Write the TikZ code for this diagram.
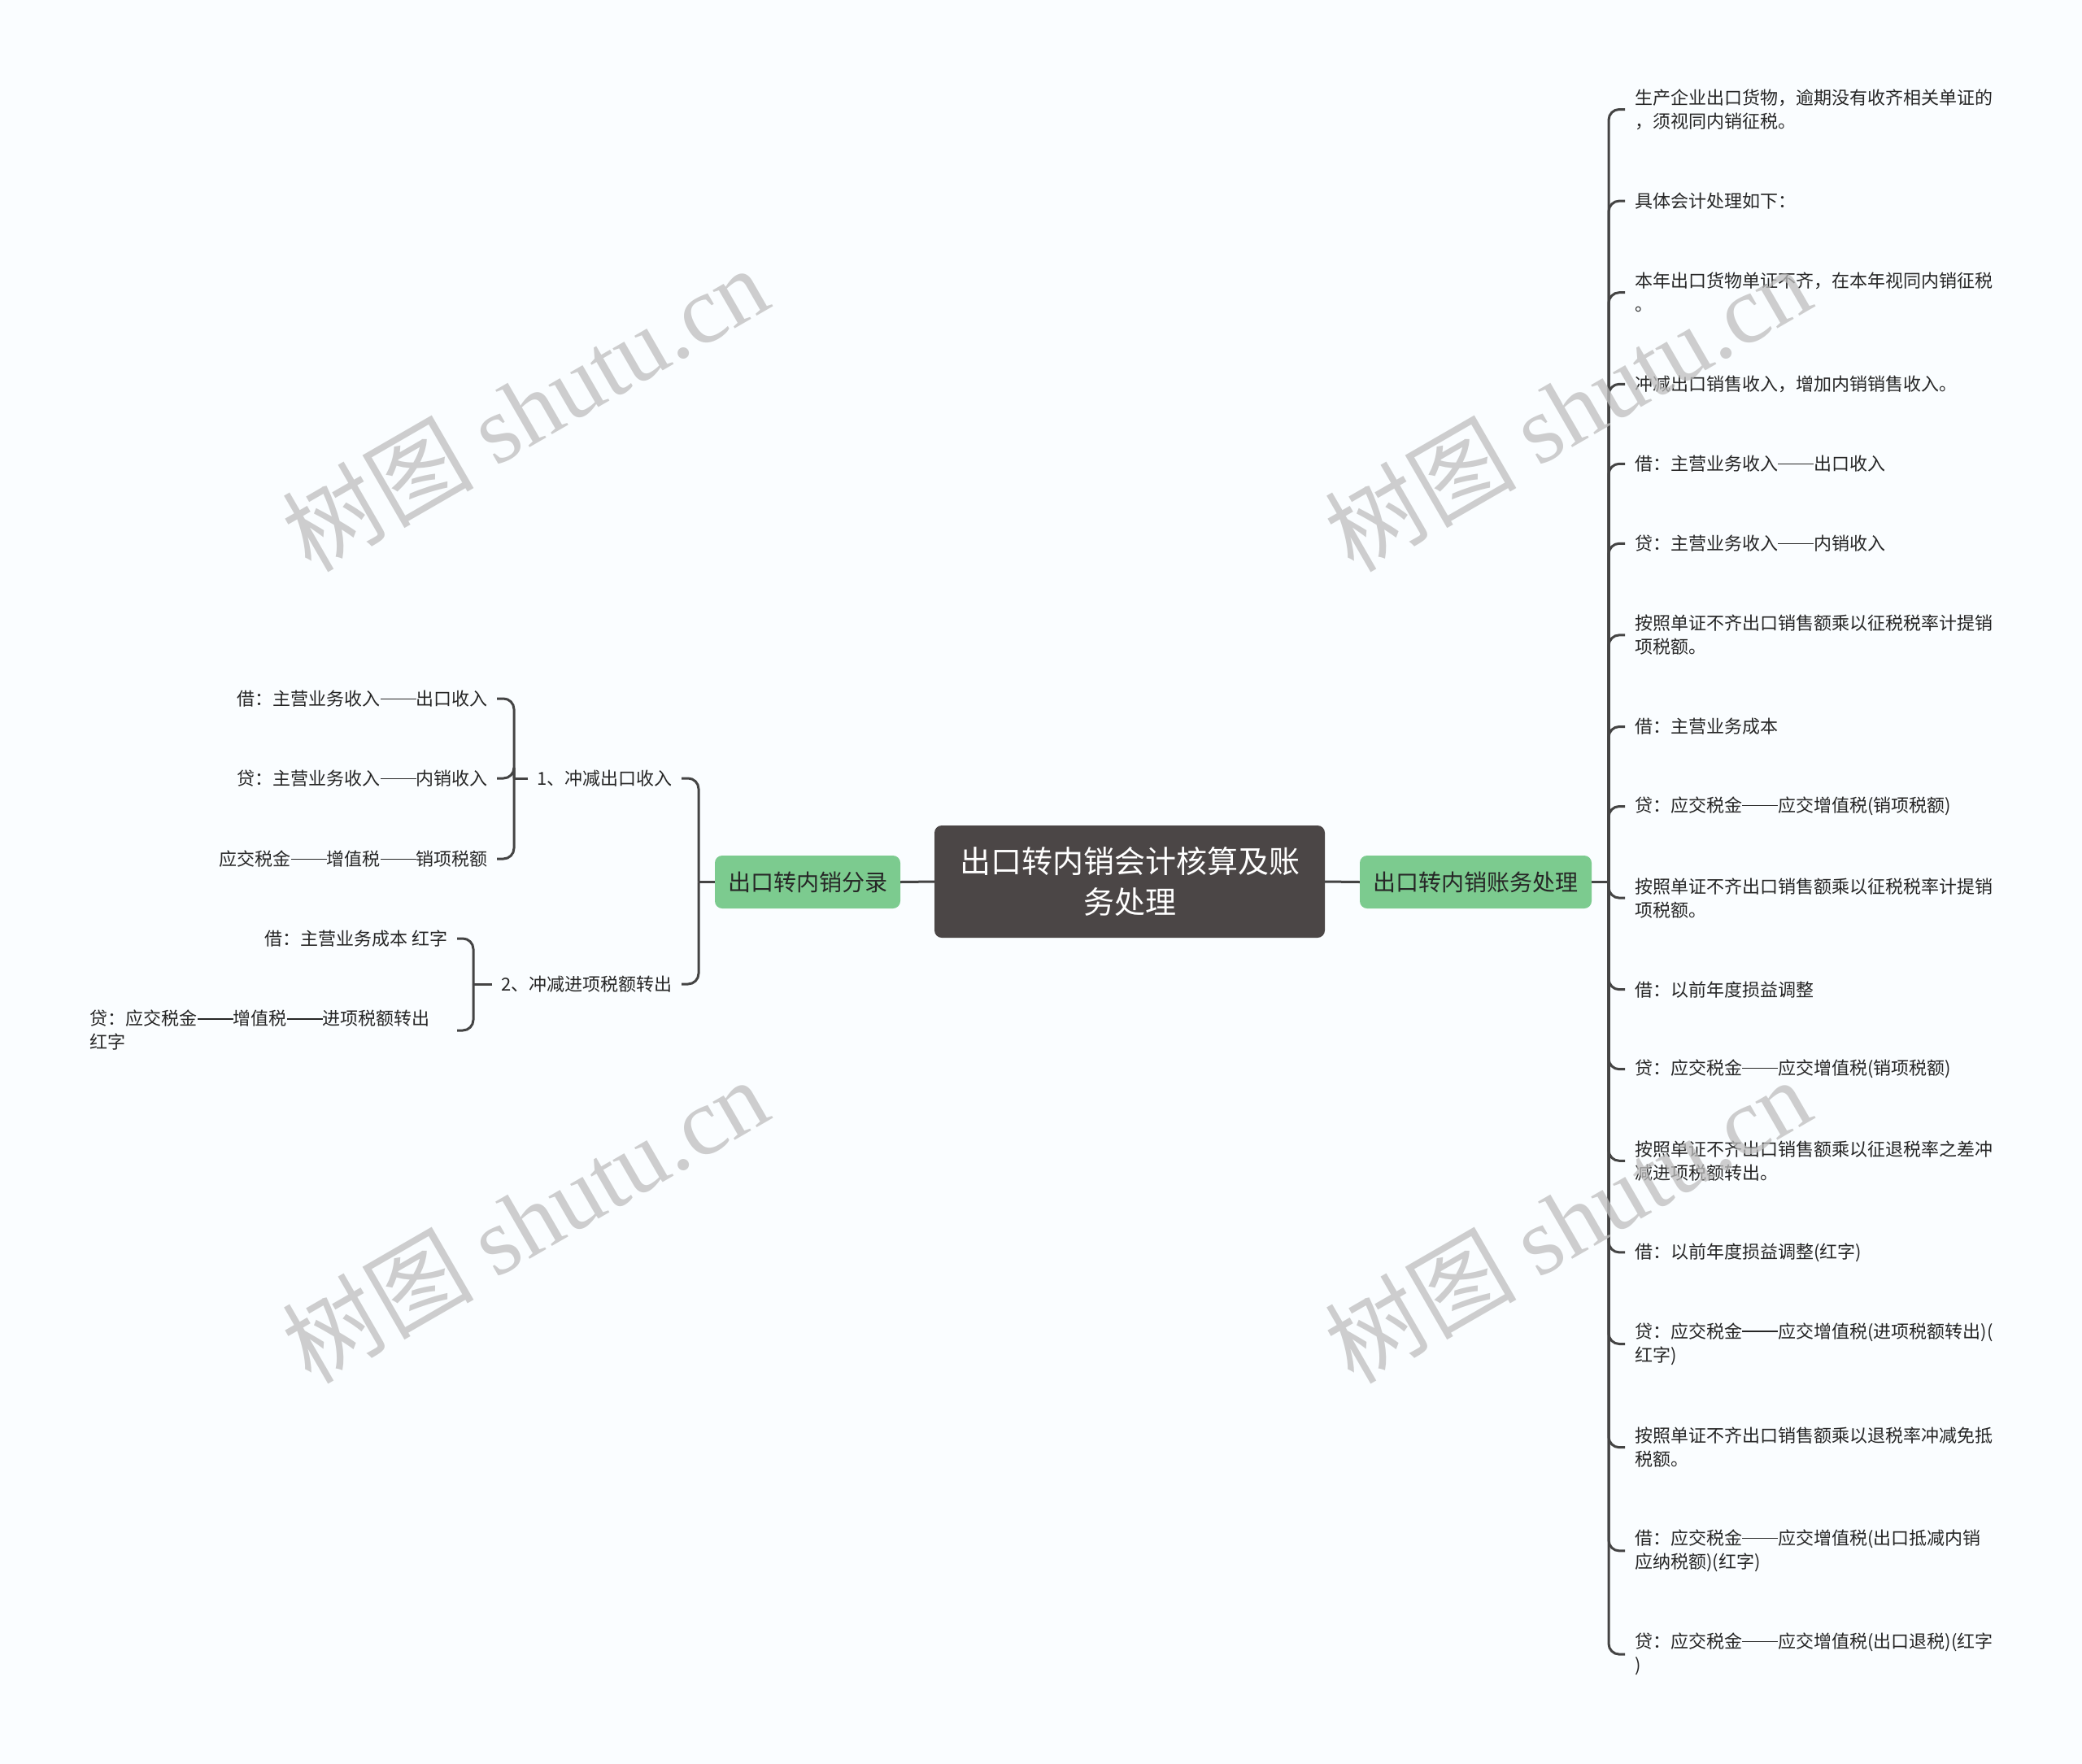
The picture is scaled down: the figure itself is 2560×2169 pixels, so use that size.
\documentclass[tikz,border=0pt]{standalone}
\usepackage{fontspec}
\setmainfont{Noto Sans CJK SC}
\newfontfamily\wmlat{Liberation Serif}
\newcommand\ddash{\rule[0.34em]{2em}{0.06em}}
\definecolor{bgc}{RGB}{250,253,255}
\definecolor{linec}{RGB}{68,68,68}
\definecolor{rootc}{RGB}{75,70,70}
\definecolor{greenc}{RGB}{124,203,143}
\definecolor{txtc}{RGB}{38,38,38}
\definecolor{wmc}{RGB}{190,190,190}
\begin{document}
\begin{tikzpicture}[x=1pt,y=-1pt,
 conn/.style={draw=linec, line width=3pt},
 branch/.style={conn, rounded corners=13pt},
 leafR/.style={anchor=west, inner xsep=12pt, inner ysep=0pt, align=left, text=txtc, font=\fontsize{22pt}{29pt}\selectfont},
 leafL/.style={anchor=east, inner xsep=11pt, inner ysep=0pt, align=left, text=txtc, font=\fontsize{22pt}{29pt}\selectfont},
 greenbox/.style={fill=greenc, rounded corners=9pt, minimum height=65pt, inner sep=0pt, text=txtc, font=\fontsize{28pt}{34pt}\selectfont},
 rootbox/.style={fill=rootc, rounded corners=9pt, minimum width=480pt, minimum height=138pt, inner sep=0pt, align=center, text=white, font=\fontsize{38pt}{50pt}\selectfont},
 wm/.style={text=wmc, opacity=0.75, rotate=30, inner sep=0pt, font=\fontsize{118pt}{118pt}\selectfont}
]
\fill[bgc] (0,0) rectangle (2560,2169);
\useasboundingbox (0,0) rectangle (2560,2169);

% central and main branches
\node[rootbox] (root) at (1389,1084) {出口转内销会计核算及账\\务处理};
\node[greenbox, minimum width=285pt] (rg) at (1814.5,1084.5) {出口转内销账务处理};
\node[greenbox, minimum width=228pt] (lg) at (993,1084.5) {出口转内销分录};
\draw[conn] (root.east) -- (rg.west);
\draw[conn] (lg.east) -- (root.west);

% right leaves
\node[leafR] (r1) at (1998,134.5) {生产企业出口货物，逾期没有收齐相关单证的\\，须视同内销征税。};
\node[leafR] (r2) at (1998,247.1) {具体会计处理如下：};
\node[leafR] (r3) at (1998,359.7) {本年出口货物单证不齐，在本年视同内销征税\\。};
\node[leafR] (r4) at (1998,472.3) {冲减出口销售收入，增加内销销售收入。};
\node[leafR] (r5) at (1998,570.3) {借：主营业务收入\ddash 出口收入};
\node[leafR] (r6) at (1998,668.3) {贷：主营业务收入\ddash 内销收入};
\node[leafR] (r7) at (1998,780.9) {按照单证不齐出口销售额乘以征税税率计提销\\项税额。};
\node[leafR] (r8) at (1998,893.5) {借：主营业务成本};
\node[leafR] (r9) at (1998,991.5) {贷：应交税金\ddash 应交增值税(销项税额)};
\node[leafR] (r10) at (1998,1104.1) {按照单证不齐出口销售额乘以征税税率计提销\\项税额。};
\node[leafR] (r11) at (1998,1216.7) {借：以前年度损益调整};
\node[leafR] (r12) at (1998,1314.7) {贷：应交税金\ddash 应交增值税(销项税额)};
\node[leafR] (r13) at (1998,1427.3) {按照单证不齐出口销售额乘以征退税率之差冲\\减进项税额转出。};
\node[leafR] (r14) at (1998,1539.9) {借：以前年度损益调整(红字)};
\node[leafR] (r15) at (1998,1652.5) {贷：应交税金\ddash 应交增值税(进项税额转出)(\\红字)};
\node[leafR] (r16) at (1998,1779.7) {按照单证不齐出口销售额乘以退税率冲减免抵\\税额。};
\node[leafR] (r17) at (1998,1906.9) {借：应交税金\ddash 应交增值税(出口抵减内销\\应纳税额)(红字)};
\node[leafR] (r18) at (1998,2034.1) {贷：应交税金\ddash 应交增值税(出口退税)(红字\\)};

\draw[conn] (rg.east) -- (1978,1084.5) coordinate (rs);
\foreach \i in {1,...,18} \draw[branch] (rs) |- (r\i.west);

% left subtree
\node[leafL] (n1) at (838,957) {1、冲减出口收入};
\node[leafL] (n2) at (838,1210) {2、冲减进项税额转出};
\draw[conn] (lg.west) -- (859,1084.5) coordinate (ls);
\draw[branch] (ls) |- (n1.east);
\draw[branch] (ls) |- (n2.east);

\node[leafL] (a1) at (611,859) {借：主营业务收入\ddash 出口收入};
\node[leafL] (a2) at (611,957) {贷：主营业务收入\ddash 内销收入};
\node[leafL] (a3) at (611,1056) {应交税金\ddash 增值税\ddash 销项税额};
\draw[conn] (n1.west) -- (632,957) coordinate (ls1);
\draw[branch] (ls1) |- (a1.east);
\draw[branch] (ls1) |- (a2.east);
\draw[branch] (ls1) |- (a3.east);

\node[leafL] (b1) at (562,1154) {借：主营业务成本 红字};
\node[leafL, text width=440pt] (b2) at (562,1267) {贷：应交税金\ddash 增值税\ddash 进项税额转出\\红字};
\draw[conn] (n2.west) -- (582,1210) coordinate (ls2);
\draw[branch] (ls2) |- (b1.east);
\draw[branch] (ls2) |- (b2.east);

% watermarks
\node[wm] (w1) at (645,502) {树图 {\wmlat shutu.cn}};
\node[wm] (w2) at (1927,502) {树图 {\wmlat shutu.cn}};
\node[wm] (w3) at (645,1500) {树图 {\wmlat shutu.cn}};
\node[wm] (w4) at (1927,1500) {树图 {\wmlat shutu.cn}};
\end{tikzpicture}
\end{document}
